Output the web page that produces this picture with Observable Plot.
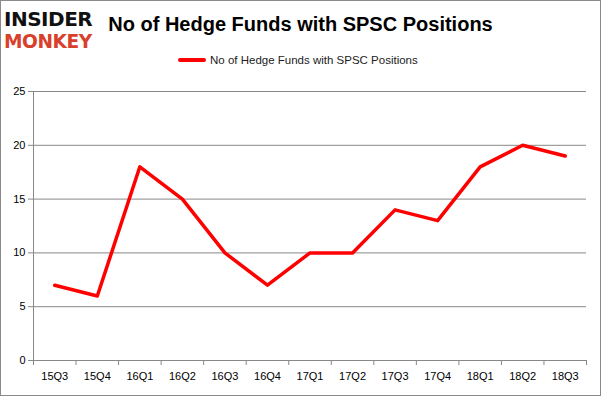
<!DOCTYPE html>
<html>
<head>
<meta charset="utf-8">
<script src="https://cdn.jsdelivr.net/npm/d3@7"></script>
<script src="https://cdn.jsdelivr.net/npm/@observablehq/plot@0.6"></script>
<style>
  body { margin: 0; background: #fff; }
  #wrap { position: relative; width: 601px; height: 396px; overflow: hidden; font-family: "Liberation Sans", Arial, sans-serif; }
  #frame { position: absolute; left: 0; top: 0; border: 1.5px solid #8a8a8a; box-sizing: border-box; width: 601px; height: 396px; }
  #logo1, #logo2 { position: absolute; left: 4px; font-weight: 900; font-family: "DejaVu Sans", sans-serif; letter-spacing: -0.5px; transform-origin: left top; line-height: 1; }
  #logo1 { top: 9px; font-size: 20px; color: #111; transform: scaleX(1.0); }
  #logo2 { top: 31px; font-size: 20px; color: #d8402c; transform: scaleX(0.93); }
  #title { position: absolute; left: 0; width: 601px; top: 12px; text-align: center; font-size: 20px; font-weight: bold; color: #000; line-height: 1.2; }
  #legend { position: absolute; top: 54px; left: 178px; font-size: 11.5px; color: #222; display: flex; align-items: center; }
  #legend .sw { display: inline-block; width: 28px; height: 3.5px; background: #ff0000; border-radius: 2px; margin-right: 4px; }
  #chart { position: absolute; left: 0; top: 0; }
</style>
</head>
<body>
<div id="wrap">
  <div id="chart"></div>
  <div id="frame"></div>
  <div id="logo1">INSIDER</div>
  <div id="logo2">MONKEY</div>
  <div id="title">No of Hedge Funds with SPSC Positions</div>
  <div id="legend"><span class="sw"></span><span>No of Hedge Funds with SPSC Positions</span></div>
</div>
<script>
const quarters = ["15Q3","15Q4","16Q1","16Q2","16Q3","16Q4","17Q1","17Q2","17Q3","17Q4","18Q1","18Q2","18Q3"];
const funds = [7, 6, 18, 15, 10, 7, 10, 10, 14, 13, 18, 20, 19];
const yTicks = [0, 5, 10, 15, 20, 25];

const data = quarters.map((q, i) => ({i, q, v: funds[i]}));
const idx = quarters.map((q, i) => i);
const bounds = quarters.map((q, i) => i - 0.5).concat([quarters.length - 0.5]);

const chart = Plot.plot({
  width: 601,
  height: 396,
  marginLeft: 33,
  marginRight: 15,
  marginTop: 91,
  marginBottom: 36,
  style: { fontFamily: "'Liberation Sans', Arial, sans-serif", fontSize: "11px", color: "#000", background: "transparent" },
  x: { type: "linear", domain: [-0.5, quarters.length - 0.5] },
  y: { domain: [0, 25] },
  marks: [
    Plot.ruleY(yTicks, { stroke: "#888", strokeWidth: 1, x1: -0.5, x2: quarters.length - 0.5 }),
    Plot.ruleX([-0.5], { stroke: "#888", strokeWidth: 1 }),
    Plot.axisY({ ticks: yTicks, tickSize: 5, tickPadding: 3, stroke: "#888", strokeOpacity: 1, fill: "#000", label: null }),
    Plot.axisX({ ticks: bounds, tickSize: 5, tickFormat: () => "", stroke: "#888", strokeOpacity: 1, label: null }),
    Plot.axisX({ ticks: idx, tickSize: 0, tickPadding: 12, tickFormat: i => quarters[i], fill: "#000", label: null }),
    Plot.line(data, { x: "i", y: "v", stroke: "#ff0000", strokeWidth: 3.5, strokeLinejoin: "round" })
  ]
});
document.getElementById("chart").appendChild(chart);
</script>
</body>
</html>
